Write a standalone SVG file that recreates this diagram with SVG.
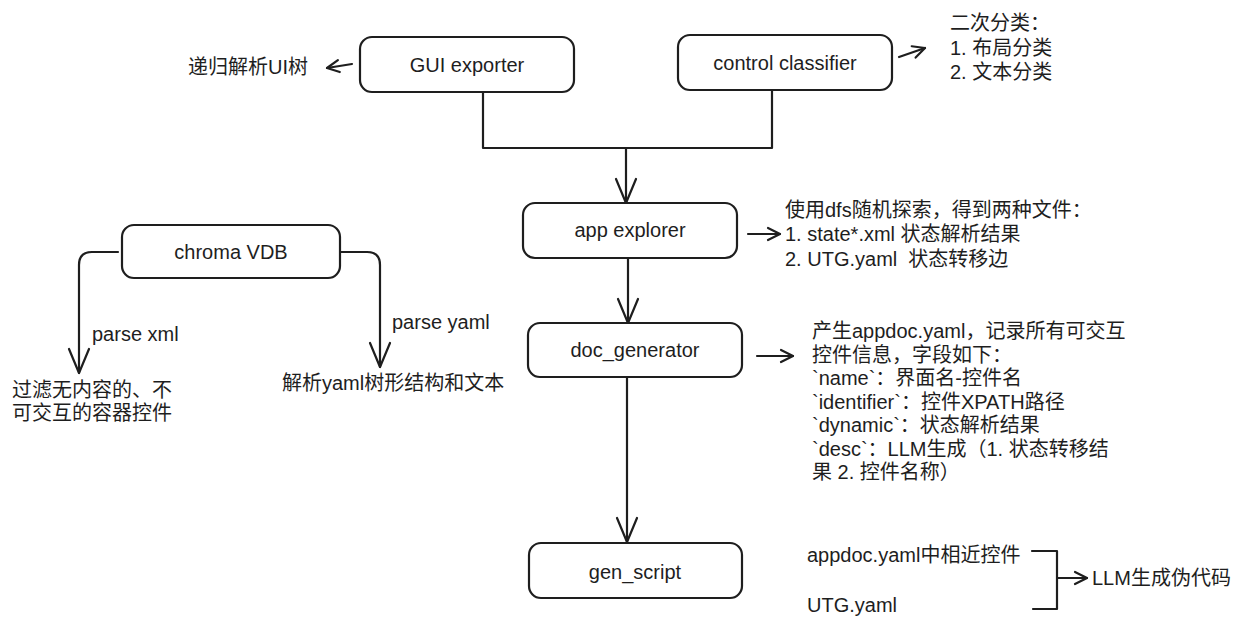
<svg xmlns="http://www.w3.org/2000/svg" width="1238" height="626" viewBox="0 0 1238 626">
<defs>
<style>
.box{fill:#ffffff;stroke:#1e1e1e;stroke-width:2.2}
.ln{fill:none;stroke:#1e1e1e;stroke-width:2.2;stroke-linecap:round;stroke-linejoin:round}
.lbl{font-family:"Liberation Sans","Noto Sans CJK SC",sans-serif;font-size:20px;fill:#1e1e1e;text-anchor:middle}
.txt{font-family:"Liberation Sans","Noto Sans CJK SC",sans-serif;font-size:20px;fill:#1e1e1e;white-space:pre}
</style>
<marker id="aL" viewBox="-30 -15 32 30" markerWidth="32" markerHeight="30" refX="0" refY="0" orient="auto" markerUnits="userSpaceOnUse">
<path d="M-24,-10 L0,0 L-24,10" fill="none" stroke="#1e1e1e" stroke-width="2.2" stroke-linecap="round" stroke-linejoin="round"/>
</marker>
<marker id="aS" viewBox="-16 -9 18 18" markerWidth="18" markerHeight="18" refX="0" refY="0" orient="auto" markerUnits="userSpaceOnUse">
<path d="M-12,-6 L0,0 L-12,6" fill="none" stroke="#1e1e1e" stroke-width="2.2" stroke-linecap="round" stroke-linejoin="round"/>
</marker>
</defs>
<rect width="1238" height="626" fill="#ffffff"/>

<g id="connectors">
<path class="ln" d="M483,92 V148 H772 V90"/>
<path class="ln" d="M626,148 V203" marker-end="url(#aL)"/>
<path class="ln" d="M628,258 V323" marker-end="url(#aL)"/>
<path class="ln" d="M627,377 V542" marker-end="url(#aL)"/>
<path class="ln" d="M118,252 H92 Q79,252 79,265 V373" marker-end="url(#aL)"/>
<path class="ln" d="M340,252 H367 Q380,252 380,265 V367" marker-end="url(#aL)"/>
<path class="ln" d="M352,64 L327,68" marker-end="url(#aS)"/>
<path class="ln" d="M899,57 L925,48" marker-end="url(#aS)"/>
<path class="ln" d="M748,234 L780,234" marker-end="url(#aS)"/>
<path class="ln" d="M757,356 L793,356" marker-end="url(#aS)"/>
<path class="ln" d="M1032,551 H1057 V609 H1033"/>
<path class="ln" d="M1057,578 L1087,578" marker-end="url(#aS)"/>
</g>

<g id="gui-exporter">
<rect class="box" x="360" y="37" width="214" height="55" rx="12"/>
<text class="lbl" x="467" y="72">GUI exporter</text>
</g>
<g id="control-classifier">
<rect class="box" x="678" y="35" width="214" height="55" rx="12"/>
<text class="lbl" x="785" y="70">control classifier</text>
</g>
<g id="app-explorer">
<rect class="box" x="523" y="203" width="214" height="55" rx="12"/>
<text class="lbl" x="630" y="237">app explorer</text>
</g>
<g id="doc-generator">
<rect class="box" x="528" y="323" width="214" height="54" rx="12"/>
<text class="lbl" x="635" y="357">doc_generator</text>
</g>
<g id="gen-script">
<rect class="box" x="529" y="543" width="213" height="55" rx="12"/>
<text class="lbl" x="635" y="579">gen_script</text>
</g>
<g id="chroma-vdb">
<rect class="box" x="122" y="225" width="218" height="53" rx="12"/>
<text class="lbl" x="231" y="259">chroma VDB</text>
</g>

<g id="notes">
<text class="txt" x="188" y="74">递归解析UI树</text>
<text class="txt" x="950" y="30">二次分类：</text>
<text class="txt" x="950" y="55">1. 布局分类</text>
<text class="txt" x="950" y="79">2. 文本分类</text>
<text class="txt" x="785" y="217">使用dfs随机探索，得到两种文件：</text>
<text class="txt" x="785" y="241">1. state*.xml 状态解析结果</text>
<text class="txt" x="785" y="266">2. UTG.yaml  状态转移边</text>
<text class="txt" x="812" y="338">产生appdoc.yaml，记录所有可交互</text>
<text class="txt" x="812" y="361.5">控件信息，字段如下：</text>
<text class="txt" x="812" y="385">`name`：界面名-控件名</text>
<text class="txt" x="812" y="408.5">`identifier`：控件XPATH路径</text>
<text class="txt" x="812" y="432">`dynamic`：状态解析结果</text>
<text class="txt" x="812" y="455.5">`desc`：LLM生成（1. 状态转移结</text>
<text class="txt" x="812" y="479">果 2. 控件名称）</text>
<text class="txt" x="807" y="562">appdoc.yaml中相近控件</text>
<text class="txt" x="807" y="612">UTG.yaml</text>
<text class="txt" x="1092" y="585">LLM生成伪代码</text>
<text class="txt" x="92" y="341">parse xml</text>
<text class="txt" x="392" y="329">parse yaml</text>
<text class="txt" x="12" y="397">过滤无内容的、不</text>
<text class="txt" x="12" y="420">可交互的容器控件</text>
<text class="txt" x="282" y="390">解析yaml树形结构和文本</text>
</g>
</svg>
